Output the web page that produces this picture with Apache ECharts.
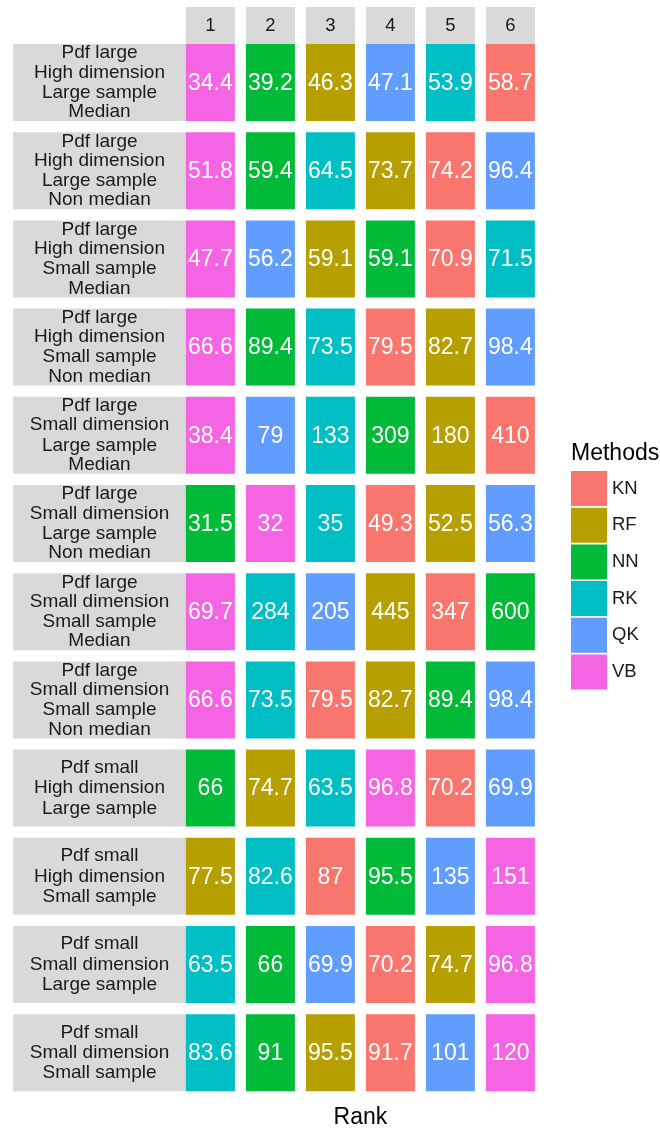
<!DOCTYPE html>
<html>
<head>
<meta charset="utf-8">
<script src="https://cdn.jsdelivr.net/npm/echarts@6/dist/echarts.min.js"></script>
<style>
html,body{margin:0;padding:0;background:#fff;}
#chart{width:660px;height:1128px;}
</style>
</head>
<body>
<div id="chart"></div>
<script>
const FONT = "'Liberation Sans', Arial, Helvetica, sans-serif";

const rankLabels = ['1', '2', '3', '4', '5', '6'];

const rowLabels = [
  'Pdf large\nHigh dimension\nLarge sample\nMedian',
  'Pdf large\nHigh dimension\nLarge sample\nNon median',
  'Pdf large\nHigh dimension\nSmall sample\nMedian',
  'Pdf large\nHigh dimension\nSmall sample\nNon median',
  'Pdf large\nSmall dimension\nLarge sample\nMedian',
  'Pdf large\nSmall dimension\nLarge sample\nNon median',
  'Pdf large\nSmall dimension\nSmall sample\nMedian',
  'Pdf large\nSmall dimension\nSmall sample\nNon median',
  'Pdf small\nHigh dimension\nLarge sample',
  'Pdf small\nHigh dimension\nSmall sample',
  'Pdf small\nSmall dimension\nLarge sample',
  'Pdf small\nSmall dimension\nSmall sample'
];

const methodNames = ['KN', 'RF', 'NN', 'RK', 'QK', 'VB'];
const methodColors = ['#F8766D', '#B79F00', '#00BA38', '#00BFC4', '#619CFF', '#F564E3'];

// method at each rank (1..6) for each row
const rankMethods = [
  ['VB', 'NN', 'RF', 'QK', 'RK', 'KN'],
  ['VB', 'NN', 'RK', 'RF', 'KN', 'QK'],
  ['VB', 'QK', 'RF', 'NN', 'KN', 'RK'],
  ['VB', 'NN', 'RK', 'KN', 'RF', 'QK'],
  ['VB', 'QK', 'RK', 'NN', 'RF', 'KN'],
  ['NN', 'VB', 'RK', 'KN', 'RF', 'QK'],
  ['VB', 'RK', 'QK', 'RF', 'KN', 'NN'],
  ['VB', 'RK', 'KN', 'RF', 'NN', 'QK'],
  ['NN', 'RF', 'RK', 'VB', 'KN', 'QK'],
  ['RF', 'RK', 'KN', 'NN', 'QK', 'VB'],
  ['RK', 'NN', 'QK', 'KN', 'RF', 'VB'],
  ['RK', 'NN', 'RF', 'KN', 'QK', 'VB']
];

// value shown at each rank for each row
const rankValues = [
  [34.4, 39.2, 46.3, 47.1, 53.9, 58.7],
  [51.8, 59.4, 64.5, 73.7, 74.2, 96.4],
  [47.7, 56.2, 59.1, 59.1, 70.9, 71.5],
  [66.6, 89.4, 73.5, 79.5, 82.7, 98.4],
  [38.4, 79, 133, 309, 180, 410],
  [31.5, 32, 35, 49.3, 52.5, 56.3],
  [69.7, 284, 205, 445, 347, 600],
  [66.6, 73.5, 79.5, 82.7, 89.4, 98.4],
  [66, 74.7, 63.5, 96.8, 70.2, 69.9],
  [77.5, 82.6, 87, 95.5, 135, 151],
  [63.5, 66, 69.9, 70.2, 74.7, 96.8],
  [83.6, 91, 95.5, 91.7, 101, 120]
];

// build per-method data: [rankIndex, rowIndex, value]
const seriesData = methodNames.map(() => []);
rankMethods.forEach((row, r) => {
  row.forEach((m, c) => {
    seriesData[methodNames.indexOf(m)].push([c, r, rankValues[r][c]]);
  });
});

function renderTile(params, api) {
  const c = api.coord([api.value(0), api.value(1)]);
  const s = api.size([1, 1]);
  const w = s[0] - 11;
  const h = s[1] - 11.2;
  return {
    type: 'group',
    children: [
      {
        type: 'rect',
        shape: { x: c[0] - w / 2, y: c[1] - h / 2, width: w, height: h },
        style: { fill: api.visual('color') }
      },
      {
        type: 'text',
        style: {
          text: String(api.value(2)),
          x: c[0], y: c[1] + 1,
          align: 'center', verticalAlign: 'middle',
          fill: '#ffffff', fontSize: 23, fontFamily: FONT
        }
      }
    ]
  };
}

const series = methodNames.map((m, i) => ({
  name: m,
  type: 'custom',
  renderItem: renderTile,
  itemStyle: { color: methodColors[i] },
  encode: { x: 0, y: 1 },
  data: seriesData[i],
  silent: true
}));

const chart = echarts.init(document.getElementById('chart'), null, { renderer: 'canvas' });
chart.setOption({
  animation: false,
  backgroundColor: '#ffffff',
  textStyle: { fontFamily: FONT },
  title: [
    {
      text: 'Methods', left: 571, top: 442, padding: 0,
      textStyle: { fontSize: 23, fontWeight: 'normal', color: '#000000', fontFamily: FONT }
    },
    {
      text: 'Rank', left: 360.4, top: 1106, padding: 0, textAlign: 'center',
      textStyle: { fontSize: 23, fontWeight: 'normal', color: '#000000', fontFamily: FONT }
    }
  ],
  legend: {
    data: methodNames,
    orient: 'vertical',
    left: 571, top: 471,
    padding: 0,
    itemWidth: 36, itemHeight: 35, itemGap: 1.7,
    icon: 'rect',
    selectedMode: false,
    textStyle: { fontSize: 18.5, color: '#1A1A1A', fontFamily: FONT }
  },
  grid: { left: 180.4, right: 119.6, top: 38.4, bottom: 31.2, containLabel: false },
  xAxis: {
    type: 'category',
    position: 'top',
    data: rankLabels,
    axisLine: { show: false },
    axisTick: { show: false },
    splitLine: { show: false },
    axisLabel: {
      margin: -5.6,
      fontSize: 18.5,
      color: '#1A1A1A',
      fontFamily: FONT,
      backgroundColor: '#D9D9D9',
      width: 49, height: 37, lineHeight: 37,
      align: 'center',
      padding: 0
    }
  },
  yAxis: {
    type: 'category',
    inverse: true,
    data: rowLabels,
    axisLine: { show: false },
    axisTick: { show: false },
    splitLine: { show: false },
    axisLabel: {
      margin: -5.6,
      backgroundColor: '#D9D9D9',
      padding: 0,
      formatter: function (v) {
        const lines = v.split('\n');
        if (lines.length === 3) {
          return ['{s| }'].concat(lines.map(l => '{a|' + l + '}'), ['{s| }']).join('\n');
        }
        const n = lines.length;
        return lines.map((l, k) => (k === 0 || k === n - 1 ? '{e|' : '{a|') + l + '}').join('\n');
      },
      rich: {
        a: { width: 173, align: 'center', fontSize: 19, lineHeight: 20.3, color: '#1A1A1A', fontFamily: FONT },
        e: { width: 173, align: 'center', fontSize: 19, lineHeight: 18.2, color: '#1A1A1A', fontFamily: FONT },
        s: { width: 173, fontSize: 1, lineHeight: 8.05 }
      }
    }
  },
  series: series
});
</script>
</body>
</html>
